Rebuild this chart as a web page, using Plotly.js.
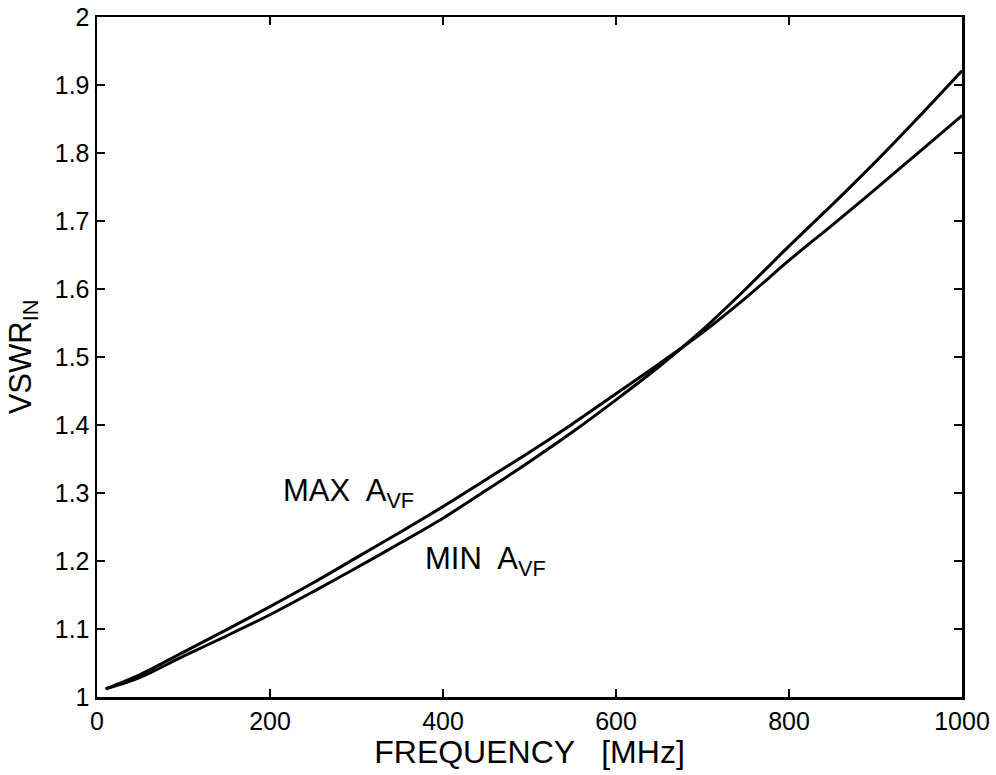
<!DOCTYPE html>
<html>
<head>
<meta charset="utf-8">
<script src="https://cdn.plot.ly/plotly-3.0.1.min.js"></script>
<style>html,body{margin:0;padding:0;background:#fff;}#chart{width:996px;height:775px;}</style>
</head>
<body>
<div id="chart"></div>
<script>
const freq = [10, 50, 100, 150, 200, 250, 300, 350, 400, 450, 500, 550, 600, 650, 700, 750, 800, 850, 900, 950, 1000];
const vswrMax = [1.012, 1.033, 1.066, 1.099, 1.133, 1.168, 1.205, 1.242, 1.280, 1.320, 1.360, 1.402, 1.446, 1.490, 1.536, 1.587, 1.642, 1.694, 1.747, 1.801, 1.855];
const vswrMin = [1.012, 1.029, 1.060, 1.090, 1.121, 1.155, 1.190, 1.226, 1.263, 1.304, 1.346, 1.390, 1.437, 1.486, 1.540, 1.600, 1.663, 1.724, 1.787, 1.853, 1.921];
const xTicks = [0, 200, 400, 600, 800, 1000];
const yTicks = [1, 1.1, 1.2, 1.3, 1.4, 1.5, 1.6, 1.7, 1.8, 1.9, 2];
const yTickText = ['1', '1.1', '1.2', '1.3', '1.4', '1.5', '1.6', '1.7', '1.8', '1.9', '2'];

const FONT = 'Liberation Sans, Arial, sans-serif';

const traces = [
  {x: freq, y: vswrMax, mode: 'lines', line: {color: '#000', width: 3, shape: 'spline', smoothing: 0.8}, name: 'MAX', hoverinfo: 'skip'},
  {x: freq, y: vswrMin, mode: 'lines', line: {color: '#000', width: 3, shape: 'spline', smoothing: 0.8}, name: 'MIN', hoverinfo: 'skip'}
];

const layout = {
  width: 996, height: 775,
  margin: {l: 97, r: 34, t: 17, b: 78},
  paper_bgcolor: '#fff', plot_bgcolor: '#fff',
  showlegend: false,
  font: {family: FONT, color: '#000', size: 25},
  xaxis: {
    range: [0, 1000], tickvals: xTicks, ticktext: xTicks.map(String),
    ticks: 'inside', ticklen: 8, tickwidth: 2.5, tickcolor: '#000',
    showline: true, linecolor: '#000', linewidth: 2.5, mirror: 'ticks',
    showgrid: false, zeroline: false,
    tickfont: {size: 25, family: FONT},
    title: {text: 'FREQUENCY   [MHz]', font: {size: 32, family: FONT}, standoff: 4},
    automargin: false
  },
  yaxis: {
    range: [1, 2], tickvals: yTicks, ticktext: yTickText,
    ticks: 'inside', ticklen: 8, tickwidth: 2.5, tickcolor: '#000',
    showline: true, linecolor: '#000', linewidth: 2.5, mirror: 'ticks',
    showgrid: false, zeroline: false,
    tickfont: {size: 25, family: FONT},
    title: {text: 'VSWR<sub>IN</sub>', font: {size: 31, family: FONT}, standoff: 14},
    automargin: false
  },
  annotations: [
    {x: 213, y: 1.30, xref: 'x', yref: 'y', xanchor: 'left', yanchor: 'middle', showarrow: false,
     text: 'MAX  A<sub>VF</sub>', font: {size: 31, family: FONT, color: '#000'}},
    {x: 377, y: 1.20, xref: 'x', yref: 'y', xanchor: 'left', yanchor: 'middle', showarrow: false,
     text: 'MIN  A<sub>VF</sub>', font: {size: 31, family: FONT, color: '#000'}}
  ]
};

Plotly.newPlot('chart', traces, layout, {displayModeBar: false, staticPlot: true});
</script>
</body>
</html>
